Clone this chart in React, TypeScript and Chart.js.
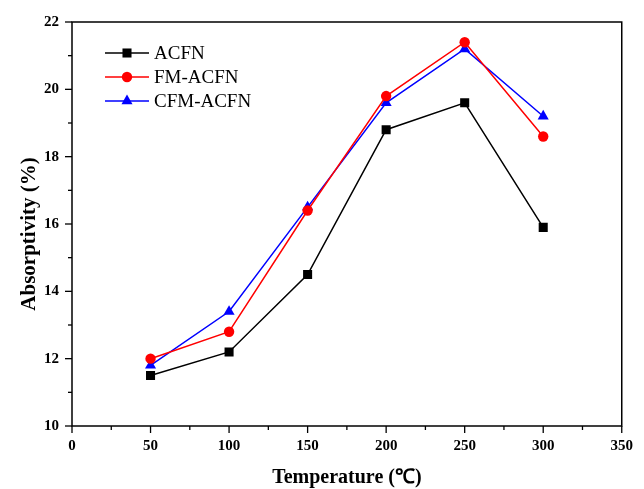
import React, { useEffect, useRef } from "react";
import { Chart, registerables } from "chart.js";

Chart.register(...registerables);

const temperatures = [50, 100, 150, 200, 250, 300];
const acfn = [11.5, 12.2, 14.5, 18.8, 19.6, 15.9];
const fmAcfn = [12.0, 12.8, 16.4, 19.8, 21.4, 18.6];
const cfmAcfn = [11.8, 13.4, 16.5, 19.6, 21.2, 19.2];
const seriesNames = ["ACFN", "FM-ACFN", "CFM-ACFN"];
const seriesColors = ["#000000", "#ff0000", "#0000ff"];
const seriesMarkers = ["rect", "circle", "triangle"];
const markerRadii = [6.4, 5.2, 6.4];
const xTitle = "Temperature (℃)";
const yTitle = "Absorptivity (%)";

const FONT = "'Liberation Serif', 'Times New Roman', serif";

const decorPlugin = {
  id: "decor",
  afterDraw(chart: any) {
    const ctx = chart.ctx;
    const area = chart.chartArea;
    const xs = chart.scales.x;
    const ys = chart.scales.y;
    ctx.save();
    ctx.strokeStyle = "#000";
    ctx.lineWidth = 1.5;
    // box
    ctx.strokeRect(area.left, area.top, area.right - area.left, area.bottom - area.top);
    // x ticks
    ctx.lineWidth = 1.3;
    for (let v = xs.min; v <= xs.max; v += 25) {
      const px = xs.getPixelForValue(v);
      const len = v % 50 === 0 ? 7 : 4;
      ctx.beginPath();
      ctx.moveTo(px, area.bottom);
      ctx.lineTo(px, area.bottom + len);
      ctx.stroke();
    }
    for (let v = ys.min; v <= ys.max; v += 1) {
      const py = ys.getPixelForValue(v);
      const len = v % 2 === 0 ? 7 : 4;
      ctx.beginPath();
      ctx.moveTo(area.left, py);
      ctx.lineTo(area.left - len, py);
      ctx.stroke();
    }
    // titles
    ctx.fillStyle = "#000";
    ctx.font = `bold 20px ${FONT}`;
    ctx.textAlign = "center";
    ctx.textBaseline = "middle";
    ctx.fillText(xTitle, (area.left + area.right) / 2, 478);
    ctx.save();
    ctx.translate(30, 234);
    ctx.rotate(-Math.PI / 2);
    ctx.font = `bold 21px ${FONT}`;
    ctx.fillText(yTitle, 0, 0);
    ctx.restore();
    // legend
    const rows = [53, 77, 101];
    ctx.textAlign = "left";
    ctx.font = `19px ${FONT}`;
    chart.data.datasets.forEach((ds: any, i: number) => {
      const y = rows[i];
      ctx.strokeStyle = ds.borderColor;
      ctx.lineWidth = 1.5;
      ctx.beginPath();
      ctx.moveTo(105, y);
      ctx.lineTo(149, y);
      ctx.stroke();
      ctx.fillStyle = ds.backgroundColor;
      ctx.strokeStyle = ds.borderColor;
      (Chart as any).helpers?.drawPoint;
      drawMarker(ctx, ds.pointStyle, ds.pointRadius, 127, y);
      ctx.fillStyle = "#000";
      ctx.fillText(ds.label, 154, y + 1);
    });
    ctx.restore();
  },
};

function drawMarker(ctx: CanvasRenderingContext2D, style: string, r: number, x: number, y: number) {
  ctx.beginPath();
  if (style === "rect") {
    const s = Math.SQRT1_2 * r;
    ctx.rect(x - s, y - s, 2 * s, 2 * s);
  } else if (style === "circle") {
    ctx.arc(x, y, r, 0, Math.PI * 2);
  } else {
    const a = (Math.PI * 2) / 3;
    ctx.moveTo(x, y - r);
    ctx.lineTo(x + Math.sin(a) * r, y - Math.cos(a) * r);
    ctx.lineTo(x + Math.sin(2 * a) * r, y - Math.cos(2 * a) * r);
    ctx.closePath();
  }
  ctx.fill();
}

export default function App() {
  const ref = useRef<HTMLCanvasElement>(null);
  useEffect(() => {
    document.body.style.margin = "0";
    const values = [acfn, fmAcfn, cfmAcfn];
    const chart = new Chart(ref.current!, {
      type: "line",
      data: {
        datasets: values.map((vals, i) => ({
          label: seriesNames[i],
          data: temperatures.map((t, j) => ({ x: t, y: vals[j] })),
          borderColor: seriesColors[i],
          backgroundColor: seriesColors[i],
          pointBackgroundColor: seriesColors[i],
          pointBorderColor: seriesColors[i],
          pointBorderWidth: 0,
          pointStyle: seriesMarkers[i] as any,
          pointRadius: markerRadii[i],
          borderWidth: 1.5,
          tension: 0,
        })),
      },
      options: {
        animation: false,
        responsive: false,
        layout: { padding: { top: 19, right: 21, left: 0, bottom: 0 } },
        plugins: { legend: { display: false }, tooltip: { enabled: false } },
        scales: {
          x: {
            type: "linear",
            min: 0,
            max: 350,
            grid: { display: false, drawTicks: false },
            border: { display: false },
            ticks: {
              stepSize: 25,
              autoSkip: false,
              maxRotation: 0,
              padding: 11,
              color: "#000",
              font: { family: FONT, size: 15, weight: "bold" },
              callback: (v: any) => (Number(v) % 50 === 0 ? String(v) : ""),
            },
            afterFit: (s: any) => {
              s.height = 63;
            },
          },
          y: {
            type: "linear",
            min: 10,
            max: 22,
            grid: { display: false, drawTicks: false },
            border: { display: false },
            ticks: {
              stepSize: 1,
              autoSkip: false,
              padding: 13,
              color: "#000",
              font: { family: FONT, size: 15, weight: "bold" },
              callback: (v: any) => (Number(v) % 2 === 0 ? String(v) : ""),
            },
            afterFit: (s: any) => {
              s.width = 72;
            },
          },
        },
      },
      plugins: [decorPlugin],
    });
    return () => chart.destroy();
  }, []);
  return (
    <canvas
      ref={ref}
      width={644}
      height={489}
      style={{ display: "block", width: 644, height: 489 }}
    />
  );
}
